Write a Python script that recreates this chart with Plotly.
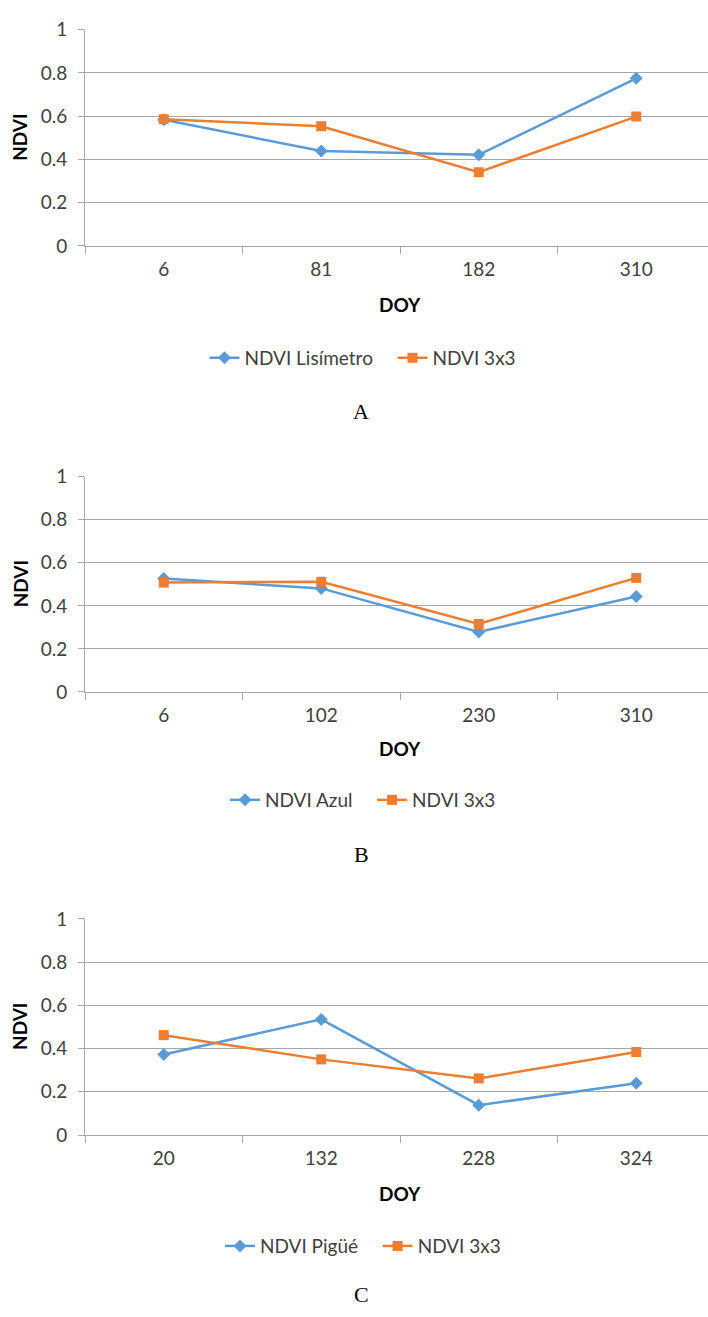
import plotly.graph_objects as go

W, H = 708, 1317

# ---- data ----
doy_a = ["6", "81", "182", "310"]
lis_a = [0.583, 0.439, 0.421, 0.775]
x33_a = [0.586, 0.553, 0.341, 0.598]

doy_b = ["6", "102", "230", "310"]
azul_b = [0.527, 0.481, 0.279, 0.443]
x33_b = [0.508, 0.512, 0.316, 0.530]

doy_c = ["20", "132", "228", "324"]
pig_c = [0.373, 0.535, 0.138, 0.240]
x33_c = [0.462, 0.350, 0.262, 0.384]

panels = [
    ("A", doy_a, "NDVI Lisímetro", lis_a, x33_a),
    ("B", doy_b, "NDVI Azul", azul_b, x33_b),
    ("C", doy_c, "NDVI Pigüé", pig_c, x33_c),
]

# ---- layout geometry (pixels from top) ----
plot_tops = [18, 473, 923]
plot_bots = [238, 692, 1143]
left_px, right_px = 85, 708
full_right = 715  # category spacing as if plot extended to 715

BLUE = "#5B9BD5"
ORANGE = "#ED7D31"
GRID = "#A6A6A6"
TXT = "#404040"
FONT = "Lato"
FS = 19

fig = go.Figure()
annotations = []
layout = dict(
    width=W, height=H,
    margin=dict(l=0, r=0, t=0, b=0),
    paper_bgcolor="white", plot_bgcolor="white",
    showlegend=True,
    font=dict(family=FONT, size=FS, color=TXT),
)

def py(px):
    return 1 - px / H

def pxx(px):
    return px / W

n_cat = 4
xmax = -0.5 + n_cat * (right_px - left_px) / (full_right - left_px)
NB = "\u00a0\u00a0\u00a0"

for i, (lab, cats, name1, s1, s2) in enumerate(panels):
    k = "" if i == 0 else str(i + 1)
    xa, ya = "x" + k, "y" + k
    leg = "legend" + k
    fig.add_trace(go.Scatter(
        x=cats, y=s1, name=name1 + NB, mode="lines+markers",
        line=dict(color=BLUE, width=2.5),
        marker=dict(symbol="diamond", size=10, color=BLUE),
        xaxis=xa, yaxis=ya, legend=leg,
    ))
    fig.add_trace(go.Scatter(
        x=cats, y=s2, name="NDVI 3x3", mode="lines+markers",
        line=dict(color=ORANGE, width=2.5),
        marker=dict(symbol="square", size=10, color=ORANGE),
        xaxis=xa, yaxis=ya, legend=leg,
    ))
    top, bot = plot_tops[i], plot_bots[i]
    layout["xaxis" + k] = dict(
        type="category", categoryorder="array", categoryarray=cats,
        domain=[pxx(left_px), 1], anchor=ya,
        range=[-0.5, xmax], tickson="boundaries",
        showline=True, linecolor=GRID, linewidth=1,
        ticks="outside", ticklen=7, tickcolor=GRID, tickwidth=1,
        showgrid=False, zeroline=False, fixedrange=True,
        tickfont=dict(family=FONT, size=FS, color=TXT),
        ticklabelstandoff=6,
    )
    layout["yaxis" + k] = dict(
        domain=[py(bot), py(top)], anchor=xa,
        range=[0, 1], dtick=0.2, tick0=0,
        showline=True, linecolor=GRID, linewidth=1,
        ticks="outside", ticklen=6, tickcolor=GRID, tickwidth=1,
        showgrid=True, gridcolor=GRID, gridwidth=1, zeroline=False,
        tickfont=dict(family=FONT, size=FS, color=TXT),
        ticklabelstandoff=7, fixedrange=True,
    )
    leg_y = [352, 802, 1256][i]
    layout[leg] = dict(
        orientation="h", x=pxx(363), xanchor="center",
        y=py(leg_y), yanchor="middle", bgcolor="rgba(0,0,0,0)",
        font=dict(family=FONT, size=FS, color=TXT),
        itemwidth=30, tracegroupgap=0,
    )
    # axis titles
    annotations.append(dict(
        text="<b>DOY</b>", x=pxx(400), y=py([298, 750, 1202][i]),
        xref="paper", yref="paper", showarrow=False,
        xanchor="center", yanchor="middle",
        font=dict(family=FONT, size=FS, color="#000000"),
    ))
    annotations.append(dict(
        text="<b>NDVI</b>", x=pxx(20), y=py((top + bot) / 2),
        xref="paper", yref="paper", showarrow=False, textangle=-90,
        xanchor="center", yanchor="middle",
        font=dict(family=FONT, size=FS, color="#000000"),
    ))
    annotations.append(dict(
        text=lab, x=pxx(361), y=py([407, 857, 1305][i]),
        xref="paper", yref="paper", showarrow=False,
        xanchor="center", yanchor="middle",
        font=dict(family="Liberation Serif", size=22, color="#000000"),
    ))

layout["annotations"] = annotations
fig.update_layout(**layout)
fig.write_html("out.html")
